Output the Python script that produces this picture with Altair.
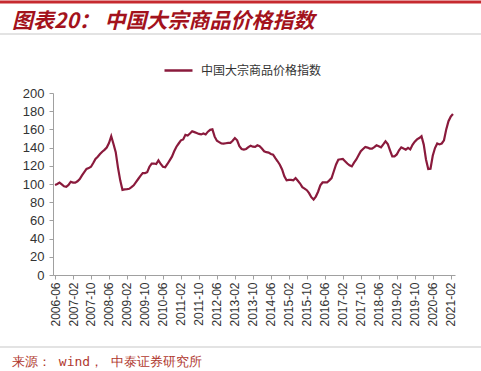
import altair as alt
import pandas as pd

# Monthly index values, 2006-06 .. 2021-03
start_year, start_month = 2006, 6
values = [
    99, 100, 101.5, 99.5, 97.5, 97, 99, 102.5, 101.5, 101.5, 103, 105.5,
    109.5, 113, 116.5, 117.5, 119, 123, 127.5, 130, 133, 135.5, 137.5, 140,
    145, 152.5, 144, 135, 118, 104, 93.5, 94, 94.3, 94.7, 96.5, 98.5,
    102, 105.5, 109, 112, 112, 113, 119, 122.5, 122.5, 122, 126, 122,
    119, 118.5, 122, 126, 130, 136, 141, 144.5, 148, 149, 154, 153.3,
    155.5, 158, 157, 156, 155, 154.5, 155.5, 154.5, 157.5, 159.5, 160, 152,
    147.5, 146, 144.5, 144.3, 144.8, 145.2, 145.2, 147.5, 150.5, 148, 141.5, 138.5,
    137.8, 138.5, 140.5, 142, 141, 140.8, 142.5, 141.5, 139, 136, 135, 134.5,
    133, 132.3, 128.5, 125, 121.2, 116, 108.5, 104, 104.5, 104.5, 104, 106.5,
    103.5, 100.5, 96.5, 95, 93.2, 90, 85.5, 83, 86.2, 91.5, 98.5, 101.7,
    101.7, 101.7, 104, 106.5, 114, 121.5, 126.7, 127.2, 127.5, 125, 122.5, 120.5,
    119.3, 123.5, 127, 131.5, 136, 138.5, 140.8, 140, 138.9, 138.9, 140.5, 142.5,
    141.5, 140.3, 143.5, 147, 144, 137, 130.4, 130.4, 132.5, 137, 140.3, 139,
    137.8, 139.7, 138, 143, 146.5, 149, 150.5, 152.5, 143.3, 127, 116.5, 116.8,
    131, 139.5, 144.5, 143.5, 144.5, 148, 160, 169, 174, 177,
]
months = []
for i in range(len(values)):
    k = start_month - 1 + i
    months.append(f"{start_year + k // 12}-{k % 12 + 1:02d}")

tick_labels = [months[i] for i in range(0, len(months), 8)]
tick_idx = [months.index(t) for t in tick_labels]

series_name = "中国大宗商品价格指数"
title_text = "图表20： 中国大宗商品价格指数"
source_text = "来源： wind， 中泰证券研究所"

df = pd.DataFrame({"month": months, "idx": list(range(len(values))), "value": values,
                   "series": series_name})

LINE_COLOR = "#8A1A3C"
W, H = 402, 182
PAD_L, PAD_T = 53, 93

label_expr = ("toString(2006 + floor((datum.value + 5) / 12)) + '-' + "
              "((((datum.value + 5) % 12) + 1) < 10 ? '0' : '') + "
              "toString(((datum.value + 5) % 12) + 1)")

line = alt.Chart(df).mark_line(strokeWidth=2.2, color=LINE_COLOR).encode(
    x=alt.X("idx:Q", scale=alt.Scale(domain=[-0.9, 177.9], nice=False, zero=False),
            axis=alt.Axis(values=tick_idx, labelExpr=label_expr, labelAngle=270,
                          labelAlign="right", labelBaseline="middle",
                          title=None, grid=False, domainColor="#A0A0A0",
                          tickColor="#A0A0A0", tickSize=4, labelPadding=3,
                          labelFontSize=12, labelColor="#333333",
                          labelFont="Liberation Sans", labelOverlap=False)),
    y=alt.Y("value:Q", scale=alt.Scale(domain=[0, 200], nice=False),
            axis=alt.Axis(values=list(range(0, 201, 20)), title=None, grid=False,
                          domainColor="#A0A0A0", tickColor="#A0A0A0", tickSize=4,
                          labelPadding=5, labelFontSize=13, labelColor="#333333",
                          labelFont="Liberation Sans")),
    color=alt.Color("series:N", scale=alt.Scale(range=[LINE_COLOR]),
                    legend=alt.Legend(orient="none", legendX=110, legendY=-38,
                                      title=None, symbolType="stroke",
                                      symbolSize=784, symbolStrokeWidth=2.5,
                                      labelFont="Noto Sans CJK SC", labelFontSize=12,
                                      labelColor="#333333", labelOffset=7)),
)

one = pd.DataFrame({"t": [title_text]})
title = alt.Chart(one).mark_text(
    align="left", baseline="alphabetic", font="Noto Sans CJK SC", fontSize=21,
    fontWeight="bold", fontStyle="italic", color="#A3121C"
).encode(text="t:N", x=alt.value(12 - PAD_L), y=alt.value(28 - PAD_T))

src = alt.Chart(pd.DataFrame({"t": [source_text]})).mark_text(
    align="left", baseline="middle", font="DejaVu Sans Mono", fontSize=13,
    color="#B0382E"
).encode(text="t:N", x=alt.value(12 - PAD_L), y=alt.value(362 - PAD_T))

red_bar = alt.Chart(pd.DataFrame({"a": [0]})).mark_rule(
    color="#C62A2F", strokeWidth=3
).encode(x=alt.value(-PAD_L), x2=alt.value(481 - PAD_L), y=alt.value(2 - PAD_T))

gray_top = alt.Chart(pd.DataFrame({"a": [0]})).mark_rule(
    color="#C8C8C8", strokeWidth=1.2
).encode(x=alt.value(-PAD_L), x2=alt.value(481 - PAD_L), y=alt.value(34 - PAD_T))

gray_bot = alt.Chart(pd.DataFrame({"a": [0]})).mark_rule(
    color="#C8C8C8", strokeWidth=1.2
).encode(x=alt.value(-PAD_L), x2=alt.value(481 - PAD_L), y=alt.value(347 - PAD_T))

chart = alt.layer(line, title, src, red_bar, gray_top, gray_bot).properties(
    width=W, height=H,
    autosize=alt.AutoSizeParams(type="none"),
    padding={"left": PAD_L, "top": PAD_T, "right": 481 - PAD_L - W,
             "bottom": 371 - PAD_T - H},
    background="white",
).configure_view(stroke=None)

chart.save("out.html", embed_options={"renderer": "svg", "actions": False})
